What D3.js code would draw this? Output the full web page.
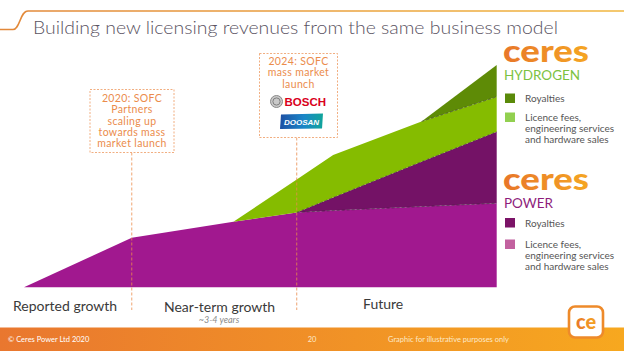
<!DOCTYPE html>
<html>
<head>
<meta charset="utf-8">
<script src="https://cdn.jsdelivr.net/npm/d3@7"></script>
<style>
  body { margin: 0; background: #fff; }
  svg { display: block; font-family: Lato, "Open Sans", sans-serif; }
</style>
</head>
<body>
<div id="chart"></div>
<script>
const width = 624,
    height = 351

// timeline position, 0 = left edge of the chart, 100 = right edge
const timeline = [0, 22.8, 44.3, 57.7, 65.4, 84.1, 100]
// stacked series (illustrative units)
const powerLicence = [0, 22.3, 29.5, 33.7, 34.5, 36.3, 37.8]
const powerRoyalty = [0, 0, 0, 0, 5.9, 20.2, 32.2]
const hydrogenLicence = [0, 0, 0, 14.8, 19.1, 18.1, 15.7]
const hydrogenRoyalty = [0, 0, 0, 0, 0, 0, 14.3]

const seriesKeys = ["powerLicence", "powerRoyalty", "hydrogenLicence", "hydrogenRoyalty"]
const seriesValues = [powerLicence, powerRoyalty, hydrogenLicence, hydrogenRoyalty]

const milestones = [
    { t: 22.8, lines: ["2020: SOFC", "Partners", "scaling up", "towards mass", "market launch"] },
    { t: 57.7, lines: ["2024: SOFC", "mass market", "launch"] }
]
const phases = ["Reported growth", "Near-term growth", "Future"]

const colors = {
    powerLicence: "#a1188f",
    powerRoyalty: "#741266",
    hydrogenLicence: "#85bc00",
    hydrogenRoyalty: "#5e8b06",
    orange: "#eb8c4c",
    text: "#4a4a4a"
}

const data = timeline.map((t, i) => {
    const row = { t: t }
    seriesKeys.forEach((k, j) => row[k] = seriesValues[j][i])
    return row
})

const svg = d3.select("#chart")
    .append("svg")
        .attr("width", width)
        .attr("height", height)

const defs = svg.append("defs")
const lineGrad = defs.append("linearGradient").attr("id", "lineGrad")
lineGrad.append("stop").attr("offset", "0%").attr("stop-color", "#e2883a")
lineGrad.append("stop").attr("offset", "100%").attr("stop-color", "#f1b740")
const footGrad = defs.append("linearGradient").attr("id", "footGrad")
footGrad.append("stop").attr("offset", "0%").attr("stop-color", "#e9772f")
footGrad.append("stop").attr("offset", "100%").attr("stop-color", "#f7a81f")
const logoGrad = defs.append("linearGradient").attr("id", "logoGrad")
logoGrad.append("stop").attr("offset", "0%").attr("stop-color", "#e8762a")
logoGrad.append("stop").attr("offset", "100%").attr("stop-color", "#f5a623")
const doosanGrad = defs.append("linearGradient").attr("id", "doosanGrad")
doosanGrad.append("stop").attr("offset", "0%").attr("stop-color", "#1d4fa3")
doosanGrad.append("stop").attr("offset", "55%").attr("stop-color", "#1a86c8")
doosanGrad.append("stop").attr("offset", "100%").attr("stop-color", "#10a59a")

// title with the swoosh line
svg.append("path")
    .attr("d", "M0,29.5 H13 C20,29.5 20,11 28,11 H624")
    .attr("fill", "none")
    .attr("stroke", "url(#lineGrad)")
    .attr("stroke-width", 1.6)
svg.append("text")
    .attr("x", 33).attr("y", 34)
    .attr("font-size", 18.5)
    .attr("font-weight", 300)
    .attr("fill", "#5a5362")
    .attr("textLength", 525)
    .attr("lengthAdjust", "spacingAndGlyphs")
    .text("Building new licensing revenues from the same business model")

const x = d3.scaleLinear().domain([0, 100]).range([24, 496.7])
const y = d3.scaleLinear().domain([0, 100]).range([287.3, 65])

const stack = d3.stack().keys(seriesKeys)
const layers = stack(data)

const defined = (k, i) => {
    const v = seriesValues[k]
    return v[i] > 0 || (i + 1 < v.length && v[i + 1] > 0)
}

layers.forEach((layer, k) => {
    const area = d3.area()
        .defined((d, i) => defined(k, i))
        .x(d => x(d.data.t))
        .y0(d => y(d[0]))
        .y1(d => y(d[1]))
    svg.append("path")
        .datum(layer)
        .attr("d", area)
        .attr("fill", colors[seriesKeys[k]])
})

// dashed boundaries where a layer sits on another one
layers.forEach((layer, k) => {
    if (k === layers.length - 1) return
    const line = d3.line()
        .defined((d, i) => defined(k, i) && defined(k + 1, i))
        .x(d => x(d.data.t))
        .y(d => y(d[1]))
    svg.append("path")
        .datum(layer)
        .attr("d", line)
        .attr("fill", "none")
        .attr("stroke", "#2a2a2a")
        .attr("stroke-opacity", 0.55)
        .attr("stroke-width", 0.9)
        .attr("stroke-dasharray", "3,2")
})

// milestone annotations
const boxes = [
    { x: 90, y: 89.5, w: 84, h: 63, lineY: 102 },
    { x: 259.5, y: 53.5, w: 78, h: 84, lineY: 65 }
]
milestones.forEach((m, i) => {
    const b = boxes[i]
    svg.append("line")
        .attr("x1", x(m.t)).attr("x2", x(m.t))
        .attr("y1", b.y + b.h).attr("y2", 310)
        .attr("stroke", colors.orange)
        .attr("stroke-opacity", 0.8)
        .attr("stroke-width", 1)
        .attr("stroke-dasharray", "3,2")
    svg.append("rect")
        .attr("x", b.x).attr("y", b.y)
        .attr("width", b.w).attr("height", b.h)
        .attr("fill", "#fff")
        .attr("stroke", colors.orange)
        .attr("stroke-opacity", 0.7)
        .attr("stroke-width", 1)
        .attr("stroke-dasharray", "2,1.5")
    svg.append("g").selectAll("text")
        .data(m.lines)
        .enter()
        .append("text")
            .attr("x", b.x + b.w / 2)
            .attr("y", (d, j) => b.lineY + j * 11.3)
            .attr("text-anchor", "middle")
            .attr("font-size", 10.5)
            .attr("letter-spacing", 0.35)
            .attr("fill", colors.orange)
            .text(d => d)
})

// Bosch logo
svg.append("circle").attr("cx", 276.5).attr("cy", 101.5).attr("r", 6)
    .attr("fill", "#c9c9c9").attr("stroke", "#8a8a8a").attr("stroke-width", 1)
svg.append("circle").attr("cx", 276.5).attr("cy", 101.5).attr("r", 3.6)
    .attr("fill", "none").attr("stroke", "#777").attr("stroke-width", 0.9)
svg.append("text")
    .attr("x", 284.5).attr("y", 106)
    .attr("font-family", "Liberation Sans, Arial, sans-serif")
    .attr("font-weight", "bold")
    .attr("font-size", 11.5)
    .attr("fill", "#d9001b")
    .text("BOSCH")
// Doosan logo
svg.append("path")
    .attr("d", "M281,114.5 L323,113.5 L322,128.5 L280,129 Z")
    .attr("fill", "url(#doosanGrad)")
svg.append("text")
    .attr("x", 301.5).attr("y", 124.5)
    .attr("text-anchor", "middle")
    .attr("font-family", "Liberation Sans, Arial, sans-serif")
    .attr("font-weight", "bold")
    .attr("font-style", "italic")
    .attr("font-size", 8)
    .attr("fill", "#fff")
    .text("DOOSAN")

// legends
const legendGroups = [
    { y: 45, sub: "HYDROGEN", subColor: "#7cc242", swatchY: [93.5, 112.5],
      swatch: ["#5a8a0a", "#92d050"] },
    { y: 173, sub: "POWER", subColor: "#8e1d7c", swatchY: [218, 239.5],
      swatch: ["#7b1367", "#c2619f"] }
]
const legendText = [["Royalties"], ["Licence fees,", "engineering services", "and hardware sales"]]

legendGroups.forEach(g => {
    svg.append("text")
        .attr("x", 503).attr("y", g.y + 17)
        .attr("font-family", "Lato, sans-serif")
        .attr("font-weight", 900)
        .attr("font-size", 30)
        .attr("fill", "url(#logoGrad)")
        .attr("textLength", 86)
        .attr("lengthAdjust", "spacingAndGlyphs")
        .text("ceres")
    svg.append("text")
        .attr("x", 504).attr("y", g.y + 34.5)
        .attr("font-size", 13.5)
        .attr("fill", g.subColor)
        .text(g.sub)
    g.swatchY.forEach((top, j) => {
        svg.append("rect")
            .attr("x", 505).attr("y", top)
            .attr("width", 10).attr("height", 9.5)
            .attr("fill", g.swatch[j])
        svg.append("g").selectAll("text")
            .data(legendText[j])
            .enter()
            .append("text")
                .attr("x", 525)
                .attr("y", (d, n) => top + 8.5 + n * 10.8)
                .attr("font-size", 10)
                .attr("fill", "#555")
                .text(d => d)
    })
})

// phase labels
const phaseX = [13, 164, 363]
const phaseY = [311, 312, 309]
svg.append("g").selectAll("text")
    .data(phases)
    .enter()
    .append("text")
        .attr("x", (d, i) => phaseX[i])
        .attr("y", (d, i) => phaseY[i])
        .attr("font-size", 14)
        .attr("fill", "#3a3a3a")
        .text(d => d)
svg.append("text")
    .attr("x", 219).attr("y", 323)
    .attr("text-anchor", "middle")
    .attr("font-size", 9)
    .attr("font-style", "italic")
    .attr("fill", "#8a8a8a")
    .text("~3-4 years")

// footer
svg.append("rect")
    .attr("x", 0).attr("y", 327.5)
    .attr("width", width).attr("height", height - 327.5)
    .attr("fill", "url(#footGrad)")
svg.append("text")
    .attr("x", 8).attr("y", 341.5)
    .attr("font-size", 7.5).attr("fill", "#fff")
    .text("© Ceres Power Ltd 2020")
svg.append("text")
    .attr("x", 312).attr("y", 342)
    .attr("text-anchor", "middle")
    .attr("font-size", 7.5).attr("fill", "#fde9c8")
    .text("20")
svg.append("text")
    .attr("x", 388).attr("y", 341.5)
    .attr("font-size", 7.5).attr("fill", "#fde9c8")
    .text("Graphic for illustrative purposes only")

// ce logo
svg.append("rect")
    .attr("x", 569).attr("y", 306.5)
    .attr("width", 34).attr("height", 31)
    .attr("rx", 6)
    .attr("fill", "#fff")
    .attr("stroke", "#ee8a2a")
    .attr("stroke-width", 2.6)
svg.append("text")
    .attr("x", 586).attr("y", 329)
    .attr("text-anchor", "middle")
    .attr("font-family", "Lato, sans-serif")
    .attr("font-weight", 900)
    .attr("font-size", 20)
    .attr("fill", "url(#logoGrad)")
    .text("ce")
</script>
</body>
</html>
